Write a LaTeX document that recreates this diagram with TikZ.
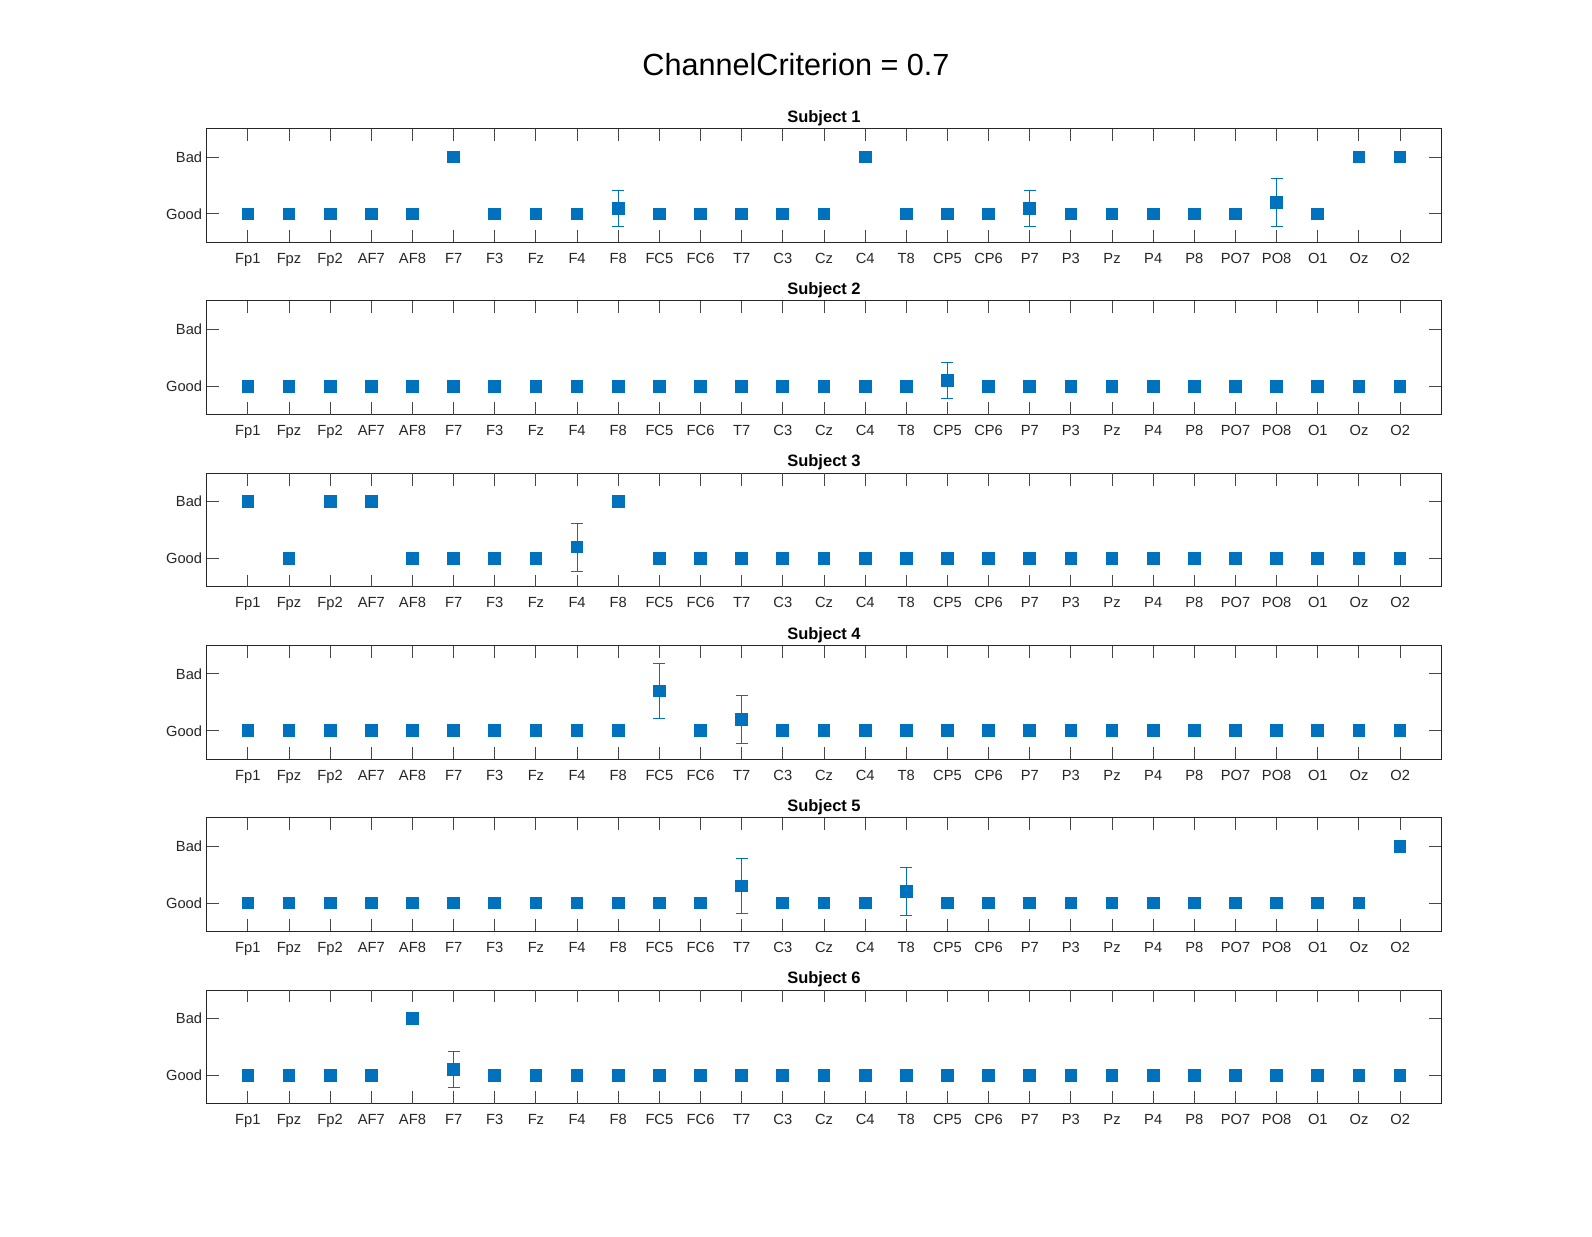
\documentclass[tikz,border=0pt]{standalone}
\usepackage{fontspec}
\setmainfont{Liberation Sans}
\definecolor{mblue}{RGB}{0,114,189}
\definecolor{axc}{RGB}{38,38,38}
\begin{document}
\begin{tikzpicture}[x=0.5pt,y=-0.5pt,
  axbox/.style={draw=axc,line width=0.5pt},
  tickline/.style={draw=axc!85,line width=0.5pt},
  xlab/.style={anchor=base,inner sep=0pt,text=axc,font=\fontsize{7.35}{9}\selectfont},
  ylab/.style={anchor=east,inner sep=0pt,text=axc,font=\fontsize{7.35}{9}\selectfont},
  subtitle/.style={anchor=base,inner sep=0pt,font=\fontsize{8.25}{10}\selectfont\bfseries},
  mainttl/.style={inner sep=0pt,font=\fontsize{15.3}{18}\selectfont},
  errbar/.style={draw=mblue,line width=0.5pt},
  marker/.style={fill=mblue}]
\useasboundingbox (0,0) rectangle (1592,1237);
\node[mainttl] (title) at (796,64.5) {ChannelCriterion = 0.7};
\def\chlist{Fp1,Fpz,Fp2,AF7,AF8,F7,F3,Fz,F4,F8,FC5,FC6,T7,C3,Cz,C4,T8,CP5,CP6,P7,P3,Pz,P4,P8,PO7,PO8,O1,Oz,O2}
\foreach \k/\vals in {
  0/{0,0,0,0,0,1,0,0,0,0.1,0,0,0,0,0,1,0,0,0,0.1,0,0,0,0,0,0.2,0,1,1},
  1/{0,0,0,0,0,0,0,0,0,0,0,0,0,0,0,0,0,0.1,0,0,0,0,0,0,0,0,0,0,0},
  2/{1,0,1,1,0,0,0,0,0.2,1,0,0,0,0,0,0,0,0,0,0,0,0,0,0,0,0,0,0,0},
  3/{0,0,0,0,0,0,0,0,0,0,0.7,0,0.2,0,0,0,0,0,0,0,0,0,0,0,0,0,0,0,0},
  4/{0,0,0,0,0,0,0,0,0,0,0,0,0.3,0,0,0,0.2,0,0,0,0,0,0,0,0,0,0,0,1},
  5/{0,0,0,0,1,0.1,0,0,0,0,0,0,0,0,0,0,0,0,0,0,0,0,0,0,0,0,0,0,0}}{
  \pgfmathsetmacro\T{128.7+172.28*\k}
  \pgfmathsetmacro\B{\T+113.6}
  \pgfmathsetmacro\yb{\T+28.4}
  \pgfmathsetmacro\yg{\T+85.2}
  \pgfmathtruncatemacro\sn{\k+1}
  \draw[axbox] (206.7,\T) rectangle (1441.3,\B);
  \node[subtitle] (sub\sn) at (824,\T-6.4) {Subject \sn};
  % y ticks
  \draw[tickline] (206.7,\yb) -- (219,\yb) (206.7,\yg) -- (219,\yg)
                  (1441.3,\yb) -- (1429,\yb) (1441.3,\yg) -- (1429,\yg);
  \node[ylab] (bad\sn) at (202.5,\yb) {Bad};
  \node[ylab] (good\sn) at (202.5,\yg) {Good};
  % x ticks and labels
  \foreach \c [count=\i] in \chlist {
    \pgfmathsetmacro\xx{206.7+41.153*\i}
    \draw[tickline] (\xx,\T) -- (\xx,\T+12.3) (\xx,\B) -- (\xx,\B-12.3);
    \node[xlab] (lab\sn-\i) at (\xx,\B+21) {\c};
  }
  % data
  \foreach \v [count=\i] in \vals {
    \pgfmathsetmacro\xx{206.7+41.153*\i}
    \pgfmathsetmacro\yy{\T+56.8*(1.5-\v)}
    \pgfmathtruncatemacro\haserr{(\v>0.01)&&(\v<0.99)}
    \ifnum\haserr=1
      \pgfmathsetmacro\sd{sqrt(\v*(1-\v)*10/9)}
      \pgfmathsetmacro\ytop{\yy-56.8*\sd}
      \pgfmathsetmacro\ybot{\yy+56.8*\sd}
      \draw[errbar] (\xx,\ytop) -- (\xx,\ybot)
                    (\xx-6,\ytop) -- (\xx+6,\ytop) (\xx-6,\ybot) -- (\xx+6,\ybot);
    \fi
    \fill[marker] (\xx-6.35,\yy-6.35) rectangle (\xx+6.35,\yy+6.35);
  }
}
\end{tikzpicture}
\end{document}
